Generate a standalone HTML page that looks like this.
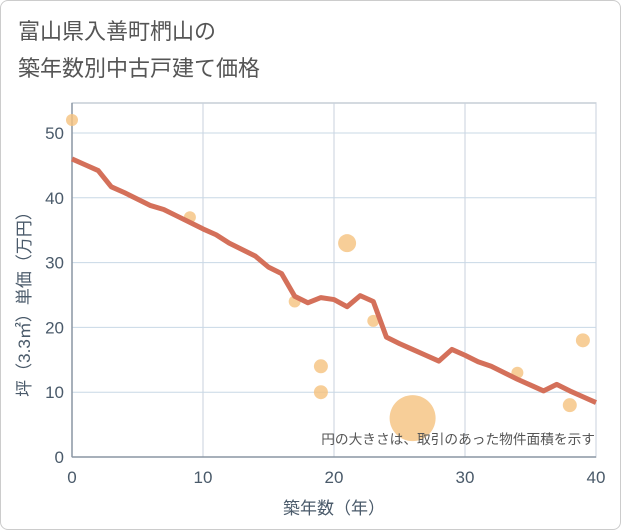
<!DOCTYPE html>
<html><head><meta charset="utf-8"><style>
body{margin:0;background:#fff}
#wrap{position:relative;width:619px;height:528px;border:1px solid #ccc;border-radius:8px;overflow:hidden;font-family:"Liberation Sans","Noto Sans CJK JP",sans-serif}
#title{position:absolute;left:17px;top:12px;font-size:22px;line-height:37px;color:#555;}
</style></head><body>
<div id="wrap">
<div id="title">富山県入善町椚山の<br>築年数別中古戸建て価格</div>
<svg id="c" width="621" height="530" style="position:absolute;left:-1px;top:-1px"></svg>
</div>
<script>
const years=[0,1,2,3,4,5,6,7,8,9,10,11,12,13,14,15,16,17,18,19,20,21,22,23,24,25,26,27,28,29,30,31,32,33,34,35,36,37,38,39,40];
const trend=[46,45.1,44.2,41.7,40.8,39.8,38.8,38.2,37.2,36.2,35.2,34.3,33,32,31,29.3,28.3,24.8,23.8,24.6,24.3,23.2,24.9,24,18.5,17.5,16.6,15.7,14.8,16.6,15.7,14.7,14,13,12,11.1,10.2,11.2,10.2,9.3,8.4];
const bx=[0,9,17,19,19,21,23,26,34,38,39];
const by=[52,37,24,14,10,33,21,6,13,8,18];
const br=[6,6,6,7,7,9,6,23,6,7,7];
const xticks=[0,10,20,30,40];
const yticks=[0,10,20,30,40,50];
const NS="http://www.w3.org/2000/svg";
const svg=document.getElementById('c');
const L=72,R=596,T=103,B=457;
const X=v=>L+(v/40)*(R-L);
const Y=v=>B-(v/50)*(B-133);
function mk(t,a){const e=document.createElementNS(NS,t);for(const k in a)e.setAttribute(k,a[k]);svg.appendChild(e);return e;}
const bg=mk('rect',{x:L,y:T,width:R-L,height:B-T,fill:'#fff',stroke:'#aab4c0'});


xticks.forEach(v=>{
const g=mk('line',{x1:X(v),x2:X(v),y1:T,y2:B,stroke:'#c8d2de'});


const t=mk('text',{x:X(v),y:483,'text-anchor':'middle','font-size':17,fill:'#4a5a6a'});t.textContent=v;


});
yticks.forEach(v=>{
const g=mk('line',{x1:L,x2:R,y1:Y(v),y2:Y(v),stroke:'#c8d8e6'});


const t=mk('text',{x:64,y:Y(v)+6,'text-anchor':'end','font-size':17,fill:'#4a5a6a'});t.textContent=v;


});
const ax=mk('line',{x1:L,x2:L,y1:T,y2:B,stroke:'#8a96a4','stroke-width':1.5});


const ax2=mk('line',{x1:L,x2:R,y1:B,y2:B,stroke:'#8a96a4','stroke-width':1.5});


bx.forEach((v,i)=>{
const c=mk('circle',{cx:X(v),cy:Y(by[i]),r:br[i],fill:'#f5c27e','fill-opacity':0.8});


});
const p=mk('polyline',{points:years.map((v,i)=>X(v)+','+Y(trend[i])).join(' '),fill:'none',stroke:'#d4705a','stroke-width':5,'stroke-linejoin':'round'});


const n=mk('text',{x:595,y:444,'text-anchor':'end','font-size':13.7,fill:'#555'});n.textContent='円の大きさは、取引のあった物件面積を示す';


const xt=mk('text',{x:334,y:514,'text-anchor':'middle','font-size':17,fill:'#4a5a6a'});xt.textContent='築年数（年）';


const yt=mk('text',{x:0,y:0,'text-anchor':'middle','font-size':17,fill:'#4a5a6a',transform:'translate(30,300) rotate(-90)'});yt.textContent='坪（3.3㎡）単価（万円）';


</script>
</body></html>
